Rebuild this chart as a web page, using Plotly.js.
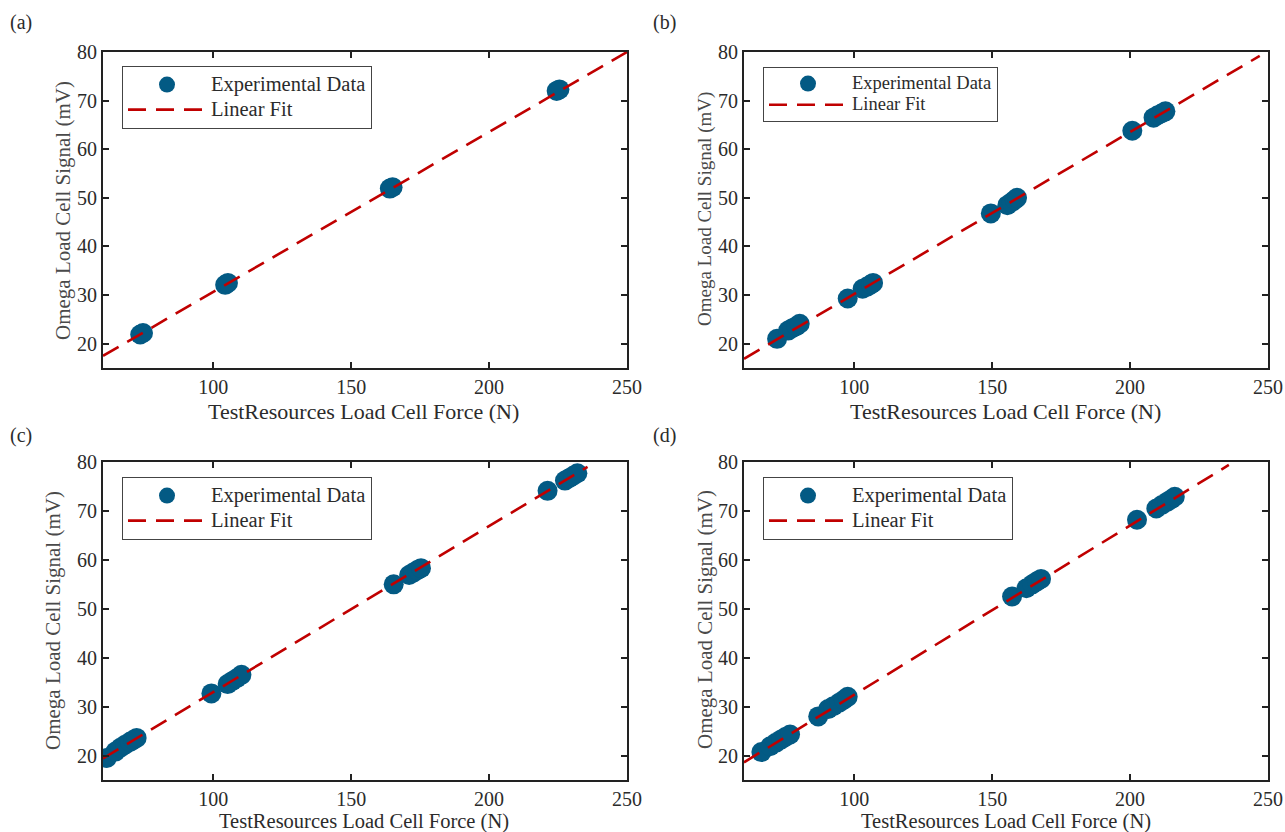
<!DOCTYPE html>
<html>
<head>
<meta charset="utf-8">
<script src="https://cdn.plot.ly/plotly-3.0.1.min.js"></script>
<style>
  html, body { margin: 0; padding: 0; background: #ffffff; }
  #chart { width: 1285px; height: 832px; }
</style>
</head>
<body>
<div id="chart"></div>
<script>
// ---------- data ----------
const panelLabels = ["(a)", "(b)", "(c)", "(d)"];
const seriesNames = ["Experimental Data", "Linear Fit"];
const xTitle = "TestResources Load Cell Force (N)";
const yTitle = "Omega Load Cell Signal (mV)";

// panel (a)
const forceA  = [73.5, 74.5, 104.3, 105.3, 164.0, 165.0, 224.5, 225.5];
const signalA = [21.9, 22.2, 32.1, 32.5, 51.9, 52.2, 72.0, 72.3];
const fitForceA  = [60, 250];
const fitSignalA = [17.5, 80.0];

// panel (b)
const forceB  = [72.0, 76.0, 77.5, 79.0, 80.2, 97.6, 103.0, 104.5, 106.0, 106.8,
                 149.5, 155.5, 157.0, 158.2, 159.0, 200.8, 208.5, 210.0, 211.5, 212.8];
const signalB = [21.0, 22.7, 23.2, 23.6, 24.1, 29.3, 31.3, 31.7, 32.2, 32.5,
                 46.8, 48.5, 49.1, 49.6, 50.0, 63.8, 66.5, 67.0, 67.4, 67.8];
const fitForceB  = [60, 247];
const fitSignalB = [16.9, 79.2];

// panel (c)
const forceC  = [61.4, 64.5, 66.3, 68.0, 69.8, 71.0, 72.2, 99.3, 105.2, 106.8, 108.5, 110.2,
                 165.4, 171.0, 172.5, 174.0, 175.3, 221.2, 227.5, 229.0, 230.5, 232.0];
const signalC = [19.5, 20.8, 21.6, 22.2, 22.8, 23.2, 23.6, 32.7, 34.6, 35.2, 35.8, 36.5,
                 55.0, 56.9, 57.4, 57.9, 58.3, 74.1, 76.2, 76.7, 77.2, 77.7];
const fitForceC  = [60, 235.7];
const fitSignalC = [19.4, 79.0];

// panel (d)
const forceD  = [66.3, 69.5, 71.5, 73.5, 75.0, 76.7, 86.9, 90.5, 92.4, 94.5, 96.2, 97.6,
                 157.2, 162.4, 164.5, 166.2, 167.7, 202.5, 209.5, 211.5, 213.5, 215.0, 216.2];
const signalD = [20.7, 21.9, 22.6, 23.3, 23.8, 24.3, 28.0, 29.5, 30.1, 30.8, 31.4, 32.0,
                 52.5, 54.2, 55.0, 55.6, 56.1, 68.2, 70.5, 71.2, 71.9, 72.4, 72.9];
const fitForceD  = [60, 235.8];
const fitSignalD = [18.6, 79.4];

const xTickVals = [100, 150, 200, 250];
const yTickVals = [20, 30, 40, 50, 60, 70, 80];

// ---------- styling ----------
const FONT = '"Liberation Serif", "Times New Roman", Times, serif';
const TEXT = '#2b2b2b';
const MARKER = '#035a84';
const FITCOL = '#c00000';

const panels = [
  {x: forceA, y: signalA, fx: fitForceA, fy: fitSignalA},
  {x: forceB, y: signalB, fx: fitForceB, fy: fitSignalB},
  {x: forceC, y: signalC, fx: fitForceC, fy: fitSignalC},
  {x: forceD, y: signalD, fx: fitForceD, fy: fitSignalD}
];

const W = 1285, H = 832;
const xDomains = [[103/W, 627/W], [744/W, 1268/W], [103/W, 627/W], [744/W, 1268/W]];
const yDomains = [[1-368/H, 1-52/H], [1-368/H, 1-52/H], [1-780/H, 1-462/H], [1-780/H, 1-462/H]];
const legendPos = [[122/W, 1-66/H], [763/W, 1-67/H], [122/W, 1-477/H], [763/W, 1-477/H]];
// legend line-spacing size and displayed text size
const legendFont = [17, 14, 17, 17];
const legendTextSize = [20.5, 18.5, 20.5, 20.5];
const labelPos = [[8/W, 1-23/H], [651/W, 1-23/H], [8/W, 1-435/H], [651/W, 1-435/H]];
// axis-title placement (pixel centres) and sizes
const xTitlePos = [[363, 411], [1005, 411], [364, 821], [1006, 821]];
const xTitleSize = [22, 22, 20.5, 20.5];
const yTitlePos = [[63, 211], [705, 209], [53, 621], [705, 620]];
const yTitleSize = [21, 19, 21, 21];

const data = [];
const layout = {
  width: W, height: H,
  margin: {l: 0, r: 0, t: 0, b: 0},
  paper_bgcolor: '#ffffff',
  plot_bgcolor: '#ffffff',
  font: {family: FONT, color: TEXT, size: 20},
  showlegend: true,
  annotations: []
};

function sized(txt, px) {
  return '<span style="font-size:' + px + 'px">' + txt + '</span>';
}

panels.forEach((p, i) => {
  const n = i === 0 ? '' : String(i + 1);
  const legName = 'legend' + n;
  data.push({
    type: 'scatter', mode: 'markers',
    x: p.x, y: p.y,
    xaxis: 'x' + n, yaxis: 'y' + n,
    name: sized(seriesNames[0], legendTextSize[i]),
    legend: legName,
    marker: {color: MARKER, size: 20, line: {width: 0}},
    hoverinfo: 'x+y'
  });
  data.push({
    type: 'scatter', mode: 'lines',
    x: p.fx, y: p.fy,
    xaxis: 'x' + n, yaxis: 'y' + n,
    name: sized(seriesNames[1], legendTextSize[i]),
    legend: legName,
    line: {color: FITCOL, width: 2.6, dash: '18px,10px'},
    hoverinfo: 'x+y'
  });

  layout['xaxis' + n] = {
    domain: xDomains[i], anchor: 'y' + n,
    range: [60, 250], tickvals: xTickVals,
    ticks: 'inside', ticklen: 6, tickwidth: 2, tickcolor: '#222',
    showline: true, linewidth: 2, linecolor: '#222', mirror: 'ticks',
    showgrid: false, zeroline: false,
    tickfont: {family: FONT, size: 20, color: TEXT},
    fixedrange: true
  };
  layout['yaxis' + n] = {
    domain: yDomains[i], anchor: 'x' + n,
    range: [15, 80], tickvals: yTickVals,
    ticks: 'inside', ticklen: 6, tickwidth: 2, tickcolor: '#222',
    showline: true, linewidth: 2, linecolor: '#222', mirror: 'ticks',
    showgrid: false, zeroline: false,
    tickfont: {family: FONT, size: 20, color: TEXT},
    fixedrange: true
  };
  layout[legName] = {
    x: legendPos[i][0], y: legendPos[i][1],
    xanchor: 'left', yanchor: 'top',
    xref: 'paper', yref: 'paper',
    bgcolor: '#ffffff', bordercolor: '#444', borderwidth: 1,
    font: {family: FONT, size: legendFont[i], color: TEXT},
    itemwidth: 78, tracegroupgap: 0
  };
  layout.annotations.push({
    text: panelLabels[i], xref: 'paper', yref: 'paper',
    x: labelPos[i][0], y: labelPos[i][1],
    xanchor: 'left', yanchor: 'middle', showarrow: false,
    font: {family: FONT, size: 20, color: TEXT}
  });
  // x-axis title
  layout.annotations.push({
    text: xTitle, xref: 'paper', yref: 'paper',
    x: xTitlePos[i][0] / W, y: 1 - xTitlePos[i][1] / H,
    xanchor: 'center', yanchor: 'middle', showarrow: false,
    font: {family: FONT, size: xTitleSize[i], color: TEXT}
  });
  // y-axis title
  layout.annotations.push({
    text: yTitle, xref: 'paper', yref: 'paper',
    x: yTitlePos[i][0] / W, y: 1 - yTitlePos[i][1] / H,
    xanchor: 'center', yanchor: 'middle', showarrow: false, textangle: -90,
    font: {family: FONT, size: yTitleSize[i], color: '#4a4a4a'}
  });
});

Plotly.newPlot('chart', data, layout, {displayModeBar: false, staticPlot: true});
</script>
</body>
</html>
